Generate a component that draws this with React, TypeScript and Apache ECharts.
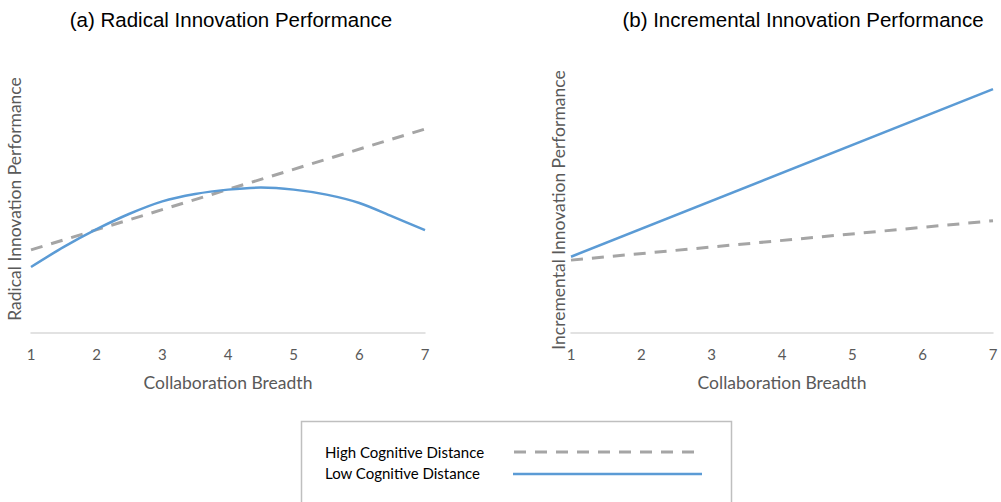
import React, { useEffect, useRef } from "react";
import * as echarts from "echarts";

const xTicks = [1, 2, 3, 4, 5, 6, 7];

// (a) Radical innovation performance
const radicalHighX = [1, 7];
const radicalHighY = [2.48, 6.09];
const radicalLowX = [1, 1.5, 2, 2.5, 3, 3.5, 4, 4.5, 5, 5.5, 6, 6.5, 7];
const radicalLowY = [1.97, 2.57, 3.1, 3.56, 3.93, 4.15, 4.28, 4.34, 4.28, 4.13, 3.88, 3.48, 3.07];

// (b) Incremental innovation performance
const incrHighX = [1, 7];
const incrHighY = [2.37, 3.65];
const incrLowX = [1, 7];
const incrLowY = [2.48, 7.93];

const titles = ["(a) Radical Innovation Performance", "(b) Incremental Innovation Performance"];
const yNames = ["Radical Innovation Performance", "Incremental Innovation Performance"];
const xName = "Collaboration Breadth";
const legendNames = ["High Cognitive Distance", "Low Cognitive Distance"];

const BLUE = "#5b9bd5";
const GRAY = "#a5a5a5";
const TXT = "#595959";
const FONT = "Lato, 'Open Sans', sans-serif";

const pairs = (xs: number[], ys: number[]) => xs.map((x, i) => [x, ys[i]]);

export default function App() {
  const ref = useRef<HTMLDivElement>(null);
  useEffect(() => {
    if (!ref.current) return;
    const chart = echarts.init(ref.current, null, { renderer: "svg" });
    const xAxisBase = (gridIndex: number) => ({
      type: "value" as const,
      gridIndex,
      min: xTicks[0],
      max: xTicks[xTicks.length - 1],
      interval: 1,
      axisLine: { show: true, lineStyle: { color: "#d9d9d9", width: 1.5 } },
      axisTick: { show: false },
      splitLine: { show: false },
      axisLabel: { color: TXT, fontSize: 15, fontFamily: FONT, margin: 13 },
      name: xName,
      nameLocation: "middle" as const,
      nameGap: 40,
      nameTextStyle: { color: TXT, fontSize: 17.5, fontFamily: FONT },
    });
    const yAxisBase = (gridIndex: number, gap: number) => ({
      type: "value" as const,
      gridIndex,
      min: 0,
      max: 8,
      axisLine: { show: false },
      axisTick: { show: false },
      axisLabel: { show: false },
      splitLine: { show: false },
      name: yNames[gridIndex],
      nameLocation: "middle" as const,
      nameGap: gap,
      nameTextStyle: { color: TXT, fontSize: 17.5, fontFamily: FONT },
    });
    const highStyle = { color: GRAY, width: 3, type: [12, 9] as number[] };
    const lowStyle = { color: BLUE, width: 2.5 };
    const titleStyle = {
      color: "#000",
      fontSize: 20.5,
      fontWeight: "normal" as const,
      fontFamily: "'Liberation Sans', Arial, sans-serif",
    };
    chart.setOption({
      animation: false,
      backgroundColor: "#ffffff",
      title: [
        { text: titles[0], left: 226, top: 4, textAlign: "center", textStyle: titleStyle },
        { text: titles[1], left: 798, top: 4, textAlign: "center", textStyle: titleStyle },
      ],
      grid: [
        { left: 31, right: 576, top: 65, bottom: 169 },
        { left: 571, right: 8, top: 87, bottom: 169 },
      ],
      xAxis: [xAxisBase(0), xAxisBase(1)],
      yAxis: [yAxisBase(0, 8), yAxisBase(1, 4)],
      series: [
        {
          name: legendNames[0],
          type: "line",
          xAxisIndex: 0,
          yAxisIndex: 0,
          data: pairs(radicalHighX, radicalHighY),
          showSymbol: false,
          lineStyle: highStyle,
        },
        {
          name: legendNames[1],
          type: "line",
          xAxisIndex: 0,
          yAxisIndex: 0,
          data: pairs(radicalLowX, radicalLowY),
          smooth: 0.3,
          showSymbol: false,
          lineStyle: lowStyle,
        },
        {
          name: legendNames[0],
          type: "line",
          xAxisIndex: 1,
          yAxisIndex: 1,
          data: pairs(incrHighX, incrHighY),
          showSymbol: false,
          lineStyle: highStyle,
        },
        {
          name: legendNames[1],
          type: "line",
          xAxisIndex: 1,
          yAxisIndex: 1,
          data: pairs(incrLowX, incrLowY),
          showSymbol: false,
          lineStyle: lowStyle,
        },
      ],
      graphic: [
        {
          type: "rect",
          shape: { x: 301.5, y: 421.5, width: 430, height: 100 },
          style: { fill: "#fff", stroke: "#bfbfbf", lineWidth: 1.5 },
        },
        {
          type: "text",
          x: 325,
          y: 452,
          style: { text: legendNames[0], fill: "#000", fontSize: 15, fontFamily: FONT, verticalAlign: "middle" },
        },
        {
          type: "text",
          x: 325,
          y: 473,
          style: { text: legendNames[1], fill: "#000", fontSize: 15, fontFamily: FONT, verticalAlign: "middle" },
        },
        {
          type: "line",
          shape: { x1: 514, y1: 452, x2: 702, y2: 452 },
          style: { stroke: GRAY, lineWidth: 3, lineDash: [12, 9] },
        },
        {
          type: "line",
          shape: { x1: 513, y1: 474, x2: 702, y2: 474 },
          style: { stroke: BLUE, lineWidth: 2.5 },
        },
      ],
    });
    return () => chart.dispose();
  }, []);
  return <div ref={ref} style={{ width: 1001, height: 502, position: "absolute", left: 0, top: 0 }} />;
}
